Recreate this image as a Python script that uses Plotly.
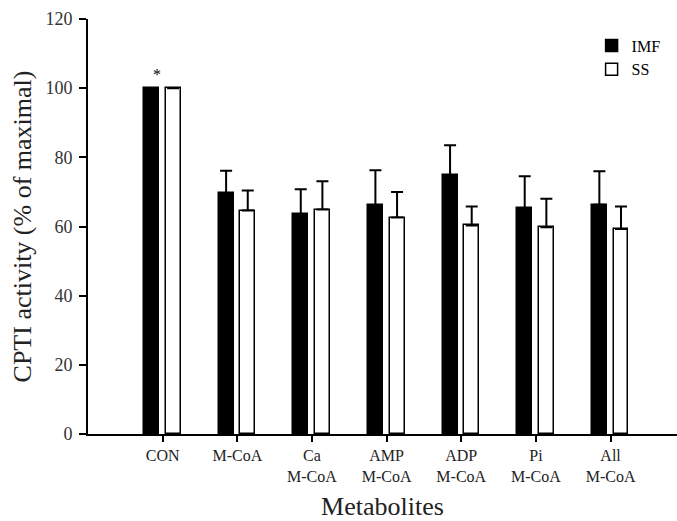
import plotly.graph_objects as go

categories = ["CON", "M-CoA", "Ca<br>M-CoA", "AMP<br>M-CoA", "ADP<br>M-CoA", "Pi<br>M-CoA", "All<br>M-CoA"]
imf_values = [100, 69.6, 63.5, 66.2, 74.8, 65.3, 66.3]
imf_errors = [0, 6.5, 7.3, 10.1, 8.7, 9.2, 9.7]
ss_values = [100, 64.6, 64.9, 62.6, 60.3, 59.8, 59.3]
ss_errors = [0, 5.8, 8.2, 7.4, 5.5, 8.2, 6.5]
y_ticks = [0, 20, 40, 60, 80, 100, 120]

FONT = "Liberation Serif, Times New Roman, serif"
xpos = list(range(len(categories)))

fig = go.Figure()
fig.add_trace(go.Bar(
    name="IMF", x=xpos, y=imf_values, width=0.2, offset=-0.25,
    marker=dict(color="black", line=dict(color="black", width=1.5)),
    error_y=dict(type="data", symmetric=False, array=imf_errors,
                 arrayminus=[0] * len(imf_errors), color="black",
                 thickness=2, width=6, visible=True),
))
fig.add_trace(go.Bar(
    name="SS", x=xpos, y=ss_values, width=0.2, offset=0.04,
    marker=dict(color="white", line=dict(color="black", width=1.5)),
    error_y=dict(type="data", symmetric=False, array=ss_errors,
                 arrayminus=[0] * len(ss_errors), color="black",
                 thickness=2, width=6, visible=True),
))

fig.add_annotation(x=0, y=104, text="*", showarrow=False, xshift=-6,
                   font=dict(family=FONT, size=16, color="black"))

fig.update_layout(
    width=677, height=521,
    margin=dict(l=88, r=0, t=19, b=87),
    paper_bgcolor="white", plot_bgcolor="white",
    font=dict(family=FONT, color="black"),
    showlegend=True,
    legend=dict(x=0.855, y=0.977, xanchor="left", yanchor="top",
                font=dict(family=FONT, size=16, color="black"),
                bgcolor="rgba(0,0,0,0)", tracegroupgap=0, itemwidth=30),
    bargap=0,
)
fig.update_xaxes(
    range=[-1, 6.89], tickmode="array", tickvals=xpos, ticktext=categories,
    showline=True, linecolor="black", linewidth=2, showgrid=False, zeroline=False,
    ticks="outside", ticklen=6, tickwidth=2, tickcolor="black",
    tickfont=dict(family=FONT, size=16, color="#222"),
    title=dict(text="Metabolites", font=dict(family=FONT, size=26, color="#222"), standoff=13),
)
fig.update_yaxes(
    range=[0, 120], tickmode="array", tickvals=y_ticks,
    showline=True, linecolor="black", linewidth=2, showgrid=False, zeroline=False,
    ticks="outside", ticklen=7, tickwidth=2, tickcolor="black", ticklabelstandoff=3,
    tickfont=dict(family=FONT, size=18, color="#333"),
    title=dict(text="CPTI activity (% of maximal)", font=dict(family=FONT, size=26, color="#222"), standoff=6),
)

fig.write_html("out.html")
